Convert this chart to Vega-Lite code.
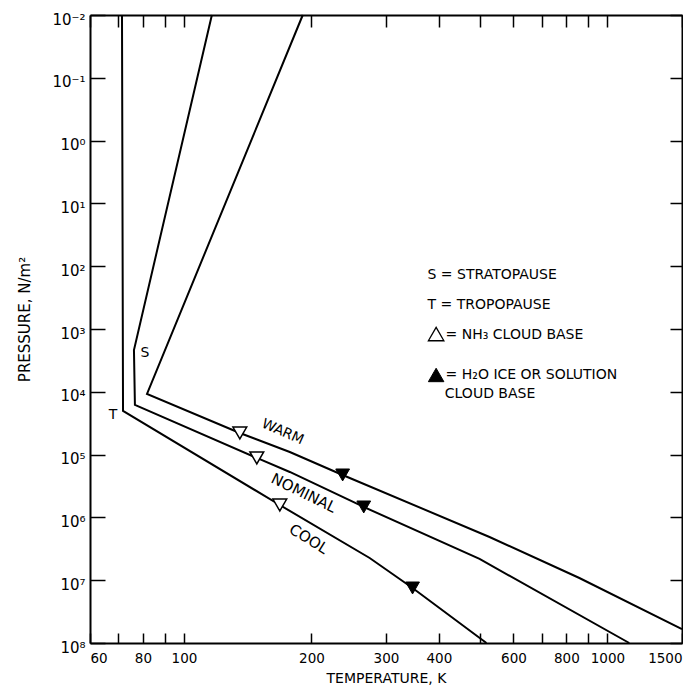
{
  "$schema": "https://vega.github.io/schema/vega-lite/v6.json",
  "width": 592,
  "height": 628,
  "autosize": {"type": "none"},
  "padding": {"left": 90, "top": 15, "right": 1, "bottom": 48},
  "background": "white",
  "config": {
    "view": {"stroke": null},
    "font": "DejaVu Sans",
    "axis": {
      "grid": false,
      "domainColor": "black",
      "domainWidth": 2,
      "tickColor": "black",
      "tickWidth": 1.5,
      "labelColor": "black",
      "titleColor": "black",
      "labelFont": "DejaVu Sans",
      "titleFont": "DejaVu Sans",
      "titleFontWeight": "normal"
    },
    "text": {"font": "DejaVu Sans", "fontSize": 14, "fill": "black"}
  },
  "datasets": {
    "profiles": [
      {"series": "warm", "i": 1, "T": 190.8, "P": 0.01},
      {"series": "warm", "i": 2, "T": 81.8, "P": 10800},
      {"series": "warm", "i": 3, "T": 135.5, "P": 45300},
      {"series": "warm", "i": 4, "T": 177.8, "P": 91000},
      {"series": "warm", "i": 5, "T": 237, "P": 211000},
      {"series": "warm", "i": 6, "T": 526.7, "P": 2050000},
      {"series": "warm", "i": 7, "T": 858.5, "P": 9230000},
      {"series": "warm", "i": 8, "T": 1500, "P": 60000000},
      {"series": "nominal", "i": 1, "T": 116.4, "P": 0.01},
      {"series": "nominal", "i": 2, "T": 76.2, "P": 2160},
      {"series": "nominal", "i": 3, "T": 76.6, "P": 16200},
      {"series": "nominal", "i": 4, "T": 148.6, "P": 113000},
      {"series": "nominal", "i": 5, "T": 177.8, "P": 189000},
      {"series": "nominal", "i": 6, "T": 265.8, "P": 682000},
      {"series": "nominal", "i": 7, "T": 498.9, "P": 4590000},
      {"series": "nominal", "i": 8, "T": 1126, "P": 100000000},
      {"series": "cool", "i": 1, "T": 71.4, "P": 0.01},
      {"series": "cool", "i": 2, "T": 71.8, "P": 20200},
      {"series": "cool", "i": 3, "T": 168.4, "P": 635000},
      {"series": "cool", "i": 4, "T": 274.5, "P": 4430000},
      {"series": "cool", "i": 5, "T": 346.6, "P": 13300000},
      {"series": "cool", "i": 6, "T": 518, "P": 100000000}
    ],
    "nh3": [
      {"series": "warm", "T": 135.5, "P": 45300},
      {"series": "nominal", "T": 148.6, "P": 113000},
      {"series": "cool", "T": 168.4, "P": 635000}
    ],
    "h2o": [
      {"series": "warm", "T": 237, "P": 211000},
      {"series": "nominal", "T": 265.8, "P": 682000},
      {"series": "cool", "T": 346.6, "P": 13300000}
    ],
    "notes": [
      {"text": "S", "kind": "flat", "T": 80.9, "P": 2410},
      {"text": "T", "kind": "flat", "T": 68, "P": 23400},
      {"text": "WARM", "kind": "warm", "T": 171, "P": 43700},
      {"text": "NOMINAL", "kind": "nominal", "T": 191.8, "P": 409000},
      {"text": "COOL", "kind": "cool", "T": 197, "P": 2210000}
    ],
    "keytext": [
      {"text": "S = STRATOPAUSE", "T": 376, "P": 138},
      {"text": "T = TROPOPAUSE", "T": 376, "P": 415},
      {"text": "= NH₃ CLOUD BASE", "T": 414.8, "P": 1247},
      {"text": "= H₂O ICE OR SOLUTION", "T": 414.8, "P": 5395},
      {"text": "CLOUD BASE", "T": 413, "P": 10800}
    ],
    "keysym": [
      {"sym": "hollow", "T": 394, "P": 1202},
      {"sym": "filled", "T": 394, "P": 5395}
    ]
  },
  "resolve": {"axis": {"x": "independent", "y": "independent"}},
  "layer": [
    {
      "data": {"name": "profiles"},
      "mark": {"type": "line", "stroke": "black", "strokeWidth": 2, "strokeJoin": "miter"},
      "encoding": {
        "x": {
          "field": "T", "type": "quantitative",
          "scale": {"type": "log", "domain": [60, 1500], "nice": false},
          "axis": {
            "orient": "bottom",
            "values": [60, 70, 80, 90, 100, 200, 300, 400, 500, 600, 700, 800, 900, 1000, 1500],
            "labelExpr": "indexof([60, 80, 100, 200, 300, 400, 600, 800, 1000, 1500], datum.value) >= 0 ? format(datum.value, 'd') : ''",
            "tickSize": -10,
            "labelPadding": 18,
            "labelFontSize": 13.5,
            "labelOverlap": false,
            "title": "TEMPERATURE, K",
            "titleFontSize": 14,
            "titlePadding": 7
          }
        },
        "y": {
          "field": "P", "type": "quantitative",
          "scale": {"type": "log", "domain": [0.01, 100000000], "reverse": true, "nice": false},
          "axis": {
            "orient": "left",
            "values": [0.01, 0.1, 1, 10, 100, 1000, 10000, 100000, 1000000, 10000000, 100000000],
            "labelExpr": "'10' + ['⁻²', '⁻¹', '⁰', '¹', '²', '³', '⁴', '⁵', '⁶', '⁷', '⁸'][round(log(datum.value) / LN10) + 2]",
            "tickSize": -15,
            "labelPadding": 20,
            "labelFontSize": 15,
            "labelFlush": false,
            "labelOffset": 4,
            "labelOverlap": false,
            "title": "PRESSURE, N/m²",
            "titleFontSize": 15,
            "titleX": -58,
            "titleY": 304
          }
        },
        "detail": {"field": "series"},
        "order": {"field": "i", "type": "quantitative"}
      }
    },
    {
      "data": {"name": "nh3"},
      "mark": {"type": "point", "shape": "triangle-down", "size": 190, "filled": true, "fill": "white", "stroke": "black", "strokeWidth": 1.5, "opacity": 1},
      "encoding": {
        "x": {
          "field": "T", "type": "quantitative",
          "scale": {"type": "log", "domain": [60, 1500], "nice": false},
          "axis": {
            "orient": "top",
            "values": [60, 70, 80, 90, 100, 200, 300, 400, 500, 600, 700, 800, 900, 1000, 1500],
            "labels": false,
            "tickSize": -12,
            "title": null
          }
        },
        "y": {
          "field": "P", "type": "quantitative",
          "scale": {"type": "log", "domain": [0.01, 100000000], "reverse": true, "nice": false},
          "axis": {
            "orient": "right",
            "values": [0.01, 0.1, 1, 10, 100, 1000, 10000, 100000, 1000000, 10000000, 100000000],
            "labels": false,
            "tickSize": -12,
            "title": null
          }
        }
      }
    },
    {
      "data": {"name": "h2o"},
      "mark": {"type": "point", "shape": "triangle-down", "size": 190, "filled": true, "fill": "black", "stroke": "black", "strokeWidth": 1, "opacity": 1},
      "encoding": {
        "x": {"field": "T", "type": "quantitative", "scale": {"type": "log", "domain": [60, 1500], "nice": false}, "axis": null},
        "y": {"field": "P", "type": "quantitative", "scale": {"type": "log", "domain": [0.01, 100000000], "reverse": true, "nice": false}, "axis": null}
      }
    },
    {
      "data": {"name": "notes"},
      "transform": [{"filter": "datum.kind === 'flat'"}],
      "mark": {"type": "text", "align": "center", "baseline": "middle", "fontSize": 14},
      "encoding": {
        "x": {"field": "T", "type": "quantitative", "scale": {"type": "log", "domain": [60, 1500], "nice": false}, "axis": null},
        "y": {"field": "P", "type": "quantitative", "scale": {"type": "log", "domain": [0.01, 100000000], "reverse": true, "nice": false}, "axis": null},
        "text": {"field": "text"}
      }
    },
    {
      "data": {"name": "notes"},
      "transform": [{"filter": "datum.kind === 'warm'"}],
      "mark": {"type": "text", "align": "center", "baseline": "middle", "fontSize": 14, "angle": 24},
      "encoding": {
        "x": {"field": "T", "type": "quantitative", "scale": {"type": "log", "domain": [60, 1500], "nice": false}, "axis": null},
        "y": {"field": "P", "type": "quantitative", "scale": {"type": "log", "domain": [0.01, 100000000], "reverse": true, "nice": false}, "axis": null},
        "text": {"field": "text"}
      }
    },
    {
      "data": {"name": "notes"},
      "transform": [{"filter": "datum.kind === 'nominal'"}],
      "mark": {"type": "text", "align": "center", "baseline": "middle", "fontSize": 15, "angle": 26},
      "encoding": {
        "x": {"field": "T", "type": "quantitative", "scale": {"type": "log", "domain": [60, 1500], "nice": false}, "axis": null},
        "y": {"field": "P", "type": "quantitative", "scale": {"type": "log", "domain": [0.01, 100000000], "reverse": true, "nice": false}, "axis": null},
        "text": {"field": "text"}
      }
    },
    {
      "data": {"name": "notes"},
      "transform": [{"filter": "datum.kind === 'cool'"}],
      "mark": {"type": "text", "align": "center", "baseline": "middle", "fontSize": 15, "angle": 32},
      "encoding": {
        "x": {"field": "T", "type": "quantitative", "scale": {"type": "log", "domain": [60, 1500], "nice": false}, "axis": null},
        "y": {"field": "P", "type": "quantitative", "scale": {"type": "log", "domain": [0.01, 100000000], "reverse": true, "nice": false}, "axis": null},
        "text": {"field": "text"}
      }
    },
    {
      "data": {"name": "keytext"},
      "mark": {"type": "text", "align": "left", "baseline": "middle", "fontSize": 14},
      "encoding": {
        "x": {"field": "T", "type": "quantitative", "scale": {"type": "log", "domain": [60, 1500], "nice": false}, "axis": null},
        "y": {"field": "P", "type": "quantitative", "scale": {"type": "log", "domain": [0.01, 100000000], "reverse": true, "nice": false}, "axis": null},
        "text": {"field": "text"}
      }
    },
    {
      "data": {"name": "keysym"},
      "transform": [{"filter": "datum.sym === 'hollow'"}],
      "mark": {"type": "point", "shape": "triangle-up", "size": 240, "filled": true, "fill": "white", "stroke": "black", "strokeWidth": 1.3, "opacity": 1},
      "encoding": {
        "x": {"field": "T", "type": "quantitative", "scale": {"type": "log", "domain": [60, 1500], "nice": false}, "axis": null},
        "y": {"field": "P", "type": "quantitative", "scale": {"type": "log", "domain": [0.01, 100000000], "reverse": true, "nice": false}, "axis": null}
      }
    },
    {
      "data": {"name": "keysym"},
      "transform": [{"filter": "datum.sym === 'filled'"}],
      "mark": {"type": "point", "shape": "triangle-up", "size": 240, "filled": true, "fill": "black", "stroke": "black", "strokeWidth": 1, "opacity": 1},
      "encoding": {
        "x": {"field": "T", "type": "quantitative", "scale": {"type": "log", "domain": [60, 1500], "nice": false}, "axis": null},
        "y": {"field": "P", "type": "quantitative", "scale": {"type": "log", "domain": [0.01, 100000000], "reverse": true, "nice": false}, "axis": null}
      }
    }
  ]
}
